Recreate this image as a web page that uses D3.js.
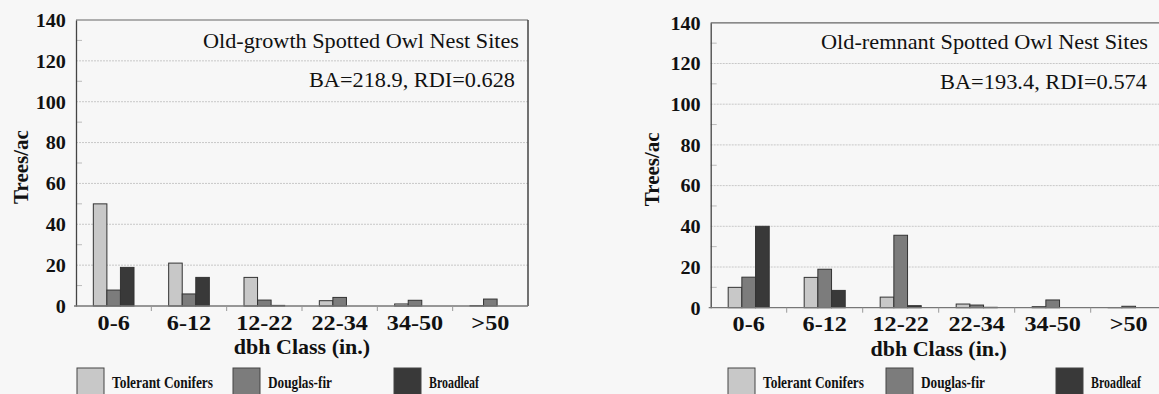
<!DOCTYPE html>
<html>
<head>
<meta charset="utf-8">
<script src="https://cdn.jsdelivr.net/npm/d3@7"></script>
<style>
  html, body { margin: 0; padding: 0; background: #f7f7f7; }
  svg { display: block; }
  text { font-family: "Liberation Serif", "Times New Roman", serif; fill: #111; }
</style>
</head>
<body>
<svg id="chart" width="1159" height="394"></svg>
<script>
// ---- data ----
const categories = ["0-6", "6-12", "12-22", "22-34", "34-50", ">50"];
const seriesNames = ["Tolerant Conifers", "Douglas-fir", "Broadleaf"];
const yTicks = [0, 20, 40, 60, 80, 100, 120, 140];

const oldGrowthTolerant = [50, 21, 14, 2.6, 1, 0.2];
const oldGrowthDouglas = [7.8, 5.9, 2.9, 4.2, 2.8, 3.4];
const oldGrowthBroadleaf = [18.9, 14, 0.3, 0, 0, 0];

const oldRemnantTolerant = [10, 14.9, 5.2, 1.8, 0.5, 0.1];
const oldRemnantDouglas = [15, 18.9, 35.6, 1.3, 3.8, 0.7];
const oldRemnantBroadleaf = [40, 8.5, 1, 0.2, 0, 0];

const panelTitles = ["Old-growth Spotted Owl Nest Sites", "Old-remnant Spotted Owl Nest Sites"];
const panelStats = ["BA=218.9, RDI=0.628", "BA=193.4, RDI=0.574"];
const yTitle = "Trees/ac";
const xTitle = "dbh Class (in.)";

// ---- layout ----
const colors = ["#c8c8c8", "#7c7c7c", "#393939"];
const legendTextLen = [101, 64, 50];
const panels = [
  { x0: 76, x1: 528, y0: 20, y1: 306, ytx: 21, legend: [77, 233, 394],
    values: [oldGrowthTolerant, oldGrowthDouglas, oldGrowthBroadleaf],
    title: panelTitles[0], stats: panelStats[0],
    titlePos: [519, 48, 316], statsPos: [515, 87, 206] },
  { x0: 710.7, x1: 1166.7, y0: 22.8, y1: 307.7, ytx: 652, legend: [728, 886, 1056],
    values: [oldRemnantTolerant, oldRemnantDouglas, oldRemnantBroadleaf],
    title: panelTitles[1], stats: panelStats[1],
    titlePos: [1148, 49, 327], statsPos: [1147, 89, 207] }
];

const svg = d3.select("#chart");

panels.forEach(p => {
  const g = svg.append("g");
  const x = d3.scaleBand().domain(categories).range([p.x0, p.x1]).padding(0);
  const bw = x.bandwidth();
  const xs = d3.scaleBand().domain(seriesNames).range([bw * 0.23, bw * 0.77]).padding(0);
  const y = d3.scaleLinear().domain([0, 140]).range([p.y1, p.y0]);

  // gridlines
  g.selectAll("line.grid").data(yTicks.filter(t => t > 0 && t < 140)).join("line")
    .attr("x1", p.x0).attr("x2", p.x1)
    .attr("y1", d => y(d)).attr("y2", d => y(d))
    .attr("stroke", "#c8c8c8").attr("stroke-width", 1).attr("stroke-dasharray", "2,1");

  // minor ticks inside
  g.selectAll("line.minor").data(d3.range(10, 140, 20)).join("line")
    .attr("x1", p.x0).attr("x2", p.x0 + 6)
    .attr("y1", d => y(d)).attr("y2", d => y(d))
    .attr("stroke", "#bbb").attr("stroke-width", 1);

  // border top & right
  g.append("line").attr("x1", p.x0).attr("x2", p.x1).attr("y1", y(140)).attr("y2", y(140))
    .attr("stroke", "#666").attr("stroke-width", 1.2);
  g.append("line").attr("x1", p.x1).attr("x2", p.x1).attr("y1", y(140)).attr("y2", y(0))
    .attr("stroke", "#444").attr("stroke-width", 1.5);

  // bars
  seriesNames.forEach((s, si) => {
    g.append("g").selectAll("rect").data(categories.map((c, i) => ({ c, v: p.values[si][i] })))
      .join("rect")
      .attr("x", d => x(d.c) + xs(s))
      .attr("y", d => y(d.v))
      .attr("width", xs.bandwidth())
      .attr("height", d => y(0) - y(d.v))
      .attr("fill", colors[si])
      .attr("stroke", "#333").attr("stroke-width", 1);
  });

  // y axis
  const yAxis = d3.axisLeft(y).tickValues(yTicks).tickSize(0).tickPadding(9);
  const ya = g.append("g").attr("transform", `translate(${p.x0},0)`).call(yAxis);
  ya.select(".domain").attr("stroke", "#444").attr("stroke-width", 1.3);
  ya.selectAll("text").attr("font-weight", "bold")
    .attr("font-size", 18).attr("fill", "#111").attr("dy", "0.35em")
    .attr("transform", "scale(1.12,1)");

  // x axis
  const xAxis = d3.axisBottom(x).tickSize(0).tickPadding(9);
  const xa = g.append("g").attr("transform", `translate(0,${y(0)})`).call(xAxis);
  xa.select(".domain").remove();
  xa.selectAll("text").attr("font-weight", "bold")
    .attr("font-size", 20.5).attr("fill", "#111")
    .attr("transform", "scale(1.18,1)");
  // zero line and category boundary ticks
  g.append("line").attr("x1", p.x0 - 2).attr("x2", p.x1).attr("y1", y(0)).attr("y2", y(0))
    .attr("stroke", "#777").attr("stroke-width", 1.3);
  g.selectAll("line.ctick").data(categories.slice(1)).join("line")
    .attr("x1", d => x(d)).attr("x2", d => x(d))
    .attr("y1", y(0)).attr("y2", y(0) + 5)
    .attr("stroke", "#999").attr("stroke-width", 1);

  // titles
  g.append("text").attr("x", p.titlePos[0]).attr("y", p.titlePos[1])
    .attr("text-anchor", "end").attr("font-size", 21)
    .attr("textLength", p.titlePos[2]).attr("lengthAdjust", "spacingAndGlyphs").text(p.title);
  g.append("text").attr("x", p.statsPos[0]).attr("y", p.statsPos[1])
    .attr("text-anchor", "end").attr("font-size", 21)
    .attr("textLength", p.statsPos[2]).attr("lengthAdjust", "spacingAndGlyphs").text(p.stats);

  // y title
  g.append("text").attr("transform", `translate(${p.ytx},${(y(0) + y(140)) / 2 + 4}) rotate(-90)`)
    .attr("text-anchor", "middle").attr("font-weight", "bold").attr("font-size", 21)
    .attr("dy", "0.35em").text(yTitle);

  // x title
  g.append("text").attr("x", (p.x0 + p.x1) / 2).attr("y", y(0) + 48)
    .attr("text-anchor", "middle").attr("font-weight", "bold").attr("font-size", 22)
    .text(xTitle);

  // legend
  seriesNames.forEach((s, si) => {
    const lx = p.legend[si];
    g.append("rect").attr("x", lx).attr("y", 368).attr("width", 27).attr("height", 30)
      .attr("fill", colors[si]).attr("stroke", "#444").attr("stroke-width", 1);
    g.append("text").attr("x", lx + 35).attr("y", 388)
      .attr("font-weight", "bold").attr("font-size", 16.5)
      .attr("textLength", legendTextLen[si]).attr("lengthAdjust", "spacingAndGlyphs").text(s);
  });
});
</script>
</body>
</html>
